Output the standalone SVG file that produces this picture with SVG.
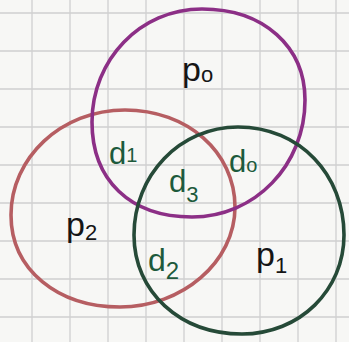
<svg xmlns="http://www.w3.org/2000/svg" width="349" height="342" viewBox="0 0 349 342">
<defs>
<style>
.grid line{stroke:#cfcfcf;stroke-width:1.3}
.ring{fill:none;stroke-width:3.6;stroke-linecap:round}
.lbl{font-family:"Liberation Sans",Arial,sans-serif;fill:#151515}
.dl{font-family:"Liberation Sans",Arial,sans-serif;fill:#1d5a3c}
</style>
</defs>
<rect width="349" height="342" fill="#f7f7f5"/>
<g class="grid">
<line x1="32" y1="0" x2="32" y2="342"/><line x1="70" y1="0" x2="70" y2="342"/><line x1="108" y1="0" x2="108" y2="342"/><line x1="146" y1="0" x2="146" y2="342"/><line x1="184" y1="0" x2="184" y2="342"/><line x1="222" y1="0" x2="222" y2="342"/><line x1="260" y1="0" x2="260" y2="342"/><line x1="298" y1="0" x2="298" y2="342"/><line x1="336" y1="0" x2="336" y2="342"/>
<line x1="0" y1="13" x2="349" y2="13"/><line x1="0" y1="51" x2="349" y2="51"/><line x1="0" y1="89" x2="349" y2="89"/><line x1="0" y1="127" x2="349" y2="127"/><line x1="0" y1="165" x2="349" y2="165"/><line x1="0" y1="203" x2="349" y2="203"/><line x1="0" y1="241" x2="349" y2="241"/><line x1="0" y1="279" x2="349" y2="279"/><line x1="0" y1="317" x2="349" y2="317"/>
</g>
<g id="set-p2">
<path class="ring" stroke="#b65e62" d="M11,215 C11,158 61,110 125,110 C187,110 235,152 235,207 C235,262 182,307 120,307 C58,307 11,270 11,215 Z"/>
<text class="lbl" x="66" y="236" font-size="34">p<tspan font-size="22" dy="4">2</tspan></text>
</g>
<g id="set-p0">
<path class="ring" stroke="#8c2f86" d="M92,122 C92,60 140,9 202,9 C264,9 305,47 305,100 C305,165 255,217 192,217 C130,217 92,180 92,122 Z"/>
<text class="lbl" x="182" y="81" font-size="34">p<tspan font-size="22" dy="1">o</tspan></text>
</g>
<g id="set-p1">
<path class="ring" stroke="#264a38" d="M134,235 C134,175 180,127 238,127 C300,127 344,175 344,235 C344,290 300,334 242,334 C180,334 134,292 134,235 Z"/>
<text class="lbl" x="256" y="266" font-size="34">p<tspan font-size="22" dy="7">1</tspan></text>
</g>
<g id="region-d1"><text class="dl" x="109" y="164" font-size="31">d<tspan font-size="20" dy="-2">1</tspan></text></g>
<g id="region-d0"><text class="dl" x="229" y="172" font-size="31">d<tspan font-size="20">o</tspan></text></g>
<g id="region-d3"><text class="dl" x="169" y="192" font-size="31">d<tspan font-size="22" dy="10">3</tspan></text></g>
<g id="region-d2"><text class="dl" x="148" y="271" font-size="32">d<tspan font-size="24" dy="8">2</tspan></text></g>
<g id="connectors"/>
</svg>
